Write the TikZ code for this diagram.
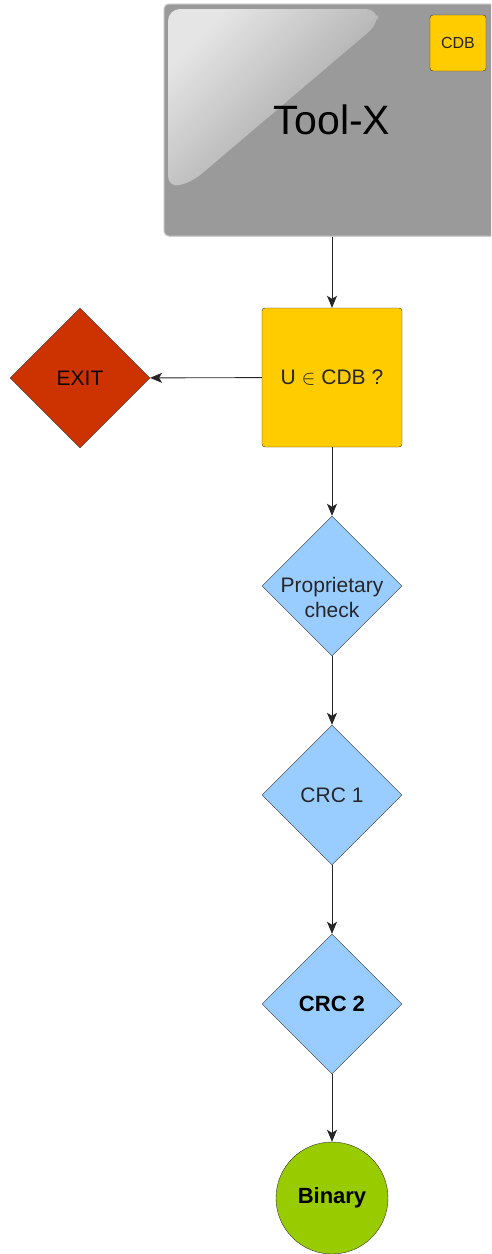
\documentclass[tikz,border=0pt]{standalone}
\usepackage{fontspec}
\setmainfont{Liberation Sans}
\usetikzlibrary{shapes.geometric,arrows.meta}
\definecolor{toolgray}{HTML}{9A9A9A}
\definecolor{dbyellow}{HTML}{FFCC00}
\definecolor{exitred}{HTML}{CC3300}
\definecolor{checkblue}{HTML}{99CCFF}
\definecolor{bingreen}{HTML}{99CC00}
\tikzset{
  box/.style={draw=black!80,rounded corners=3pt,fill=dbyellow,text=black!85},
  test/.style={draw=black!80,diamond,aspect=1,inner sep=0pt,minimum size=140pt,
    fill=checkblue,text=black!85,align=center,font=\fontsize{21}{25}\selectfont},
  arr/.style={draw=black!85,line width=0.9pt,-{Stealth[length=12pt,width=10pt,inset=3pt]}}
}
\begin{document}
\begin{tikzpicture}[x=1pt,y=-1pt]
                \clip (0,0) rectangle (491,1254);
                \node[draw=black!25,line width=1pt,rounded corners=5pt,fill=toolgray,
                  minimum width=336pt,minimum height=232pt] (tool) at (332,120) {};
                % glossy highlight
                \path[rounded corners=12pt,top color=white!88!toolgray,bottom color=toolgray,
                  shading angle=45,opacity=0.85]
                  (168,9) -- (378,9) -- (378,24) -- (192,182) -- (168,188) -- cycle;
                \node[font=\fontsize{41}{45}\selectfont] (name) at (tool) {Tool-X};
                \node[box,minimum size=56pt,inner sep=0pt,font=\fontsize{16}{18}\selectfont] (cdb) at (458,43) {CDB};

                \node[box,minimum width=140pt,minimum height=139pt,inner sep=0pt,
                  font=\fontsize{21}{23}\selectfont] (check) at (332,377.5) {U $\in$ CDB ?};
                \node[test,fill=exitred,text=black!90!exitred] (exit) at (80,378) {EXIT};
                \node[test] (prop) at (332,586) {};
                \node[text=black!85,align=center,font=\fontsize{21}{25}\selectfont] (proptext)
                  at ([yshift=-11pt]prop.center) {Proprietary\\check};
                \node[test] (crc1) at (332,795) {CRC 1};
                \node[test,font=\fontsize{22}{24}\selectfont\bfseries,text=black] (crc2) at (332,1004) {CRC 2};
                \node[draw=black!80,circle,minimum size=112pt,inner sep=0pt,fill=bingreen,
                  font=\fontsize{22}{24}\selectfont\bfseries] (bin) at (332,1198) {Binary};

                \draw[arr] (tool) -- (check);
                \draw[arr] (check) -- (exit);
                \draw[arr] (check) -- (prop);
                \draw[arr] (prop) -- (crc1);
                \draw[arr] (crc1) -- (crc2);
                \draw[arr] (crc2) -- (bin);
            \end{tikzpicture}
\end{document}
